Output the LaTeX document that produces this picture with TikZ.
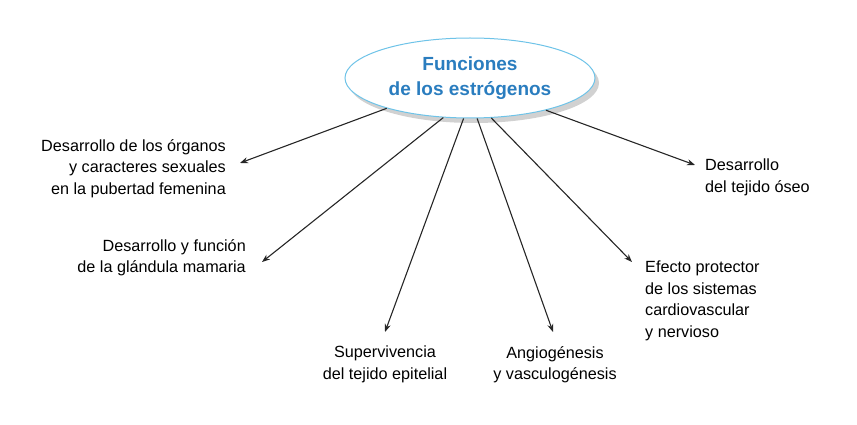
\documentclass[tikz,border=0pt]{standalone}
\usepackage{fontspec}
\setmainfont{Liberation Sans}
\usetikzlibrary{arrows.meta,shapes.geometric}
\definecolor{tblue}{HTML}{2A7DBF}
\definecolor{eline}{HTML}{6EC3E8}
\begin{document}
\begin{tikzpicture}[x=1pt,y=-1pt,
  lbl/.style={font=\fontsize{16.2}{21.5}\selectfont,inner sep=0pt},
  arr/.style={draw=black!85,line width=1.1pt,-{Stealth[length=8pt,width=6pt]}}]
\useasboundingbox (0,0) rectangle (857,425);
\fill[black!18] (474,83) ellipse [x radius=125, y radius=40];
\node[draw=eline,fill=white,line width=1pt,ellipse,minimum width=250pt,minimum height=80pt,inner sep=0pt,
  font=\fontsize{19}{25}\selectfont\bfseries,text=tblue,align=center] (e) at (470,78) {Funciones\\de los estrógenos};
\coordinate (c1) at (240,163);
\coordinate (c2) at (262,262);
\coordinate (c3) at (385,332);
\coordinate (c4) at (553,332);
\coordinate (c5) at (632,262);
\coordinate (c6) at (695,165);
\draw[arr] (e.200) -- (c1);
\draw[arr] (e.236) -- (c2);
\draw[arr] (e.261) -- (c3);
\draw[arr] (e.280) -- (c4);
\draw[arr] (e.298) -- (c5);
\draw[arr] (e.337) -- (c6);
\node[lbl,align=right,anchor=north east] (t1) at (226,139) {Desarrollo de los órganos\\y caracteres sexuales\\en la pubertad femenina};
\node[lbl,align=right,anchor=north east] (t2) at (246,239) {Desarrollo y función\\de la glándula mamaria};
\node[lbl,align=center,anchor=north] (t3) at (385,346) {Supervivencia\\del tejido epitelial};
\node[lbl,align=center,anchor=north] (t4) at (555,346) {Angiogénesis\\y vasculogénesis};
\node[lbl,align=left,anchor=north west] (t5) at (645,261) {Efecto protector\\de los sistemas\\cardiovascular\\y nervioso};
\node[lbl,align=left,anchor=north west] (t6) at (705,159) {Desarrollo\\del tejido óseo};
\end{tikzpicture}
\end{document}
